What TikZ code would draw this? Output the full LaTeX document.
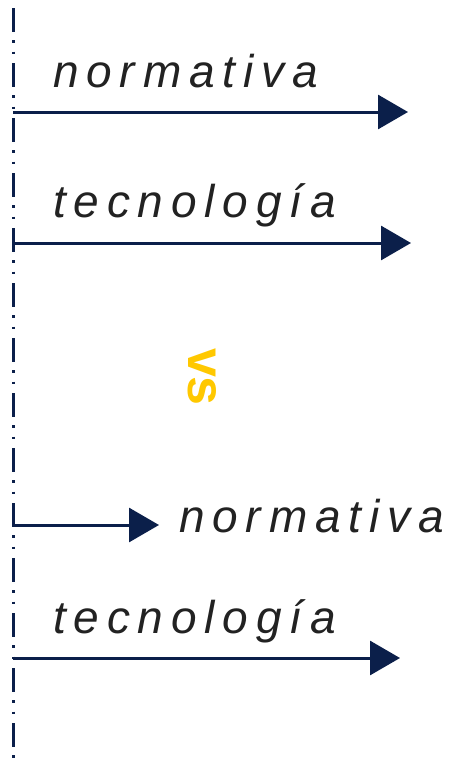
\documentclass[tikz,border=0pt]{standalone}
\usepackage{fontspec}
\setmainfont{Liberation Sans}
\usetikzlibrary{arrows.meta}
\definecolor{navy}{HTML}{0B1F4A}
\definecolor{txtgray}{HTML}{222222}
\definecolor{gold}{HTML}{FFC800}
\tikzset{
  lbl/.style={anchor=base west, inner sep=0pt, text=txtgray,
    font=\fontsize{46}{50}\selectfont\itshape\addfontfeatures{LetterSpace=17}},
  arr/.style={draw=navy, line width=3pt, -{Triangle[length=30pt,width=34pt]}},
  axis/.style={draw=navy, line width=3pt, dash pattern=on 24pt off 8pt on 2.5pt off 9pt on 2.5pt off 9pt}
}
\begin{document}
\begin{tikzpicture}[x=1pt,y=-1pt]
\useasboundingbox (0,0) rectangle (449,763);
\coordinate (top) at (13,8);
\coordinate (bot) at (13,763);
\draw[axis] (top) -- (bot);
\coordinate (s1) at (13,112);
\coordinate (e1) at (408,112);
\coordinate (s2) at (13,243);
\coordinate (e2) at (411,243);
\coordinate (s3) at (13,525);
\coordinate (e3) at (159,525);
\coordinate (s4) at (13,658);
\coordinate (e4) at (400,658);
\draw[arr] (s1) -- (e1);
\draw[arr] (s2) -- (e2);
\draw[arr] (s3) -- (e3);
\draw[arr] (s4) -- (e4);
\node[lbl] (t1) at (53,87) {normativa};
\node[lbl] (t2) at (53,217) {tecnología};
\node[lbl] (t3) at (179,532) {normativa};
\node[lbl] (t4) at (53,633) {tecnología};
\node[rotate=-90, text=gold, inner sep=0pt, font=\fontsize{52}{56}\selectfont\bfseries] (vs) at (202,377) {vs};
\end{tikzpicture}
\end{document}
